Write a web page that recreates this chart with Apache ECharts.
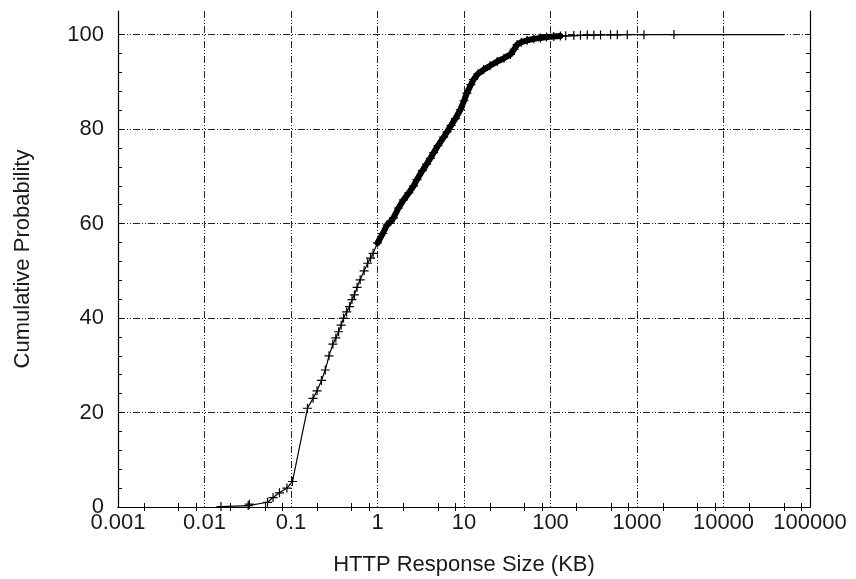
<!DOCTYPE html>
<html>
<head>
<meta charset="utf-8">
<script src="https://cdn.jsdelivr.net/npm/echarts@6/dist/echarts.min.js"></script>
<style>
html,body{margin:0;padding:0;background:#fff;}
#chart{width:856px;height:579px;}
</style>
</head>
<body>
<div id="chart"></div>
<script>
// ---- data ----
var sizeKB = [0.0155, 0.032, 0.033, 0.0535, 0.062, 0.0736, 0.0897, 0.104, 0.155,
  0.18, 0.20, 0.225, 0.249, 0.275, 0.305, 0.33, 0.355, 0.38, 0.405, 0.44, 0.475, 0.507,
  0.54, 0.58, 0.63, 0.70, 0.77, 0.83, 0.89, 1.0, 1.15, 1.29, 1.41, 1.53, 1.75, 2.0,
  2.3, 2.62, 2.86, 3.3, 3.7, 4.08, 4.46, 5.0, 5.83, 6.37, 7.1, 7.95, 9.08, 10.0,
  10.8, 12.0, 12.9, 14.5, 16.9, 20.0, 24.2, 29.0, 34.4, 38.0, 41.1, 46.0, 53.7,
  64.0, 76.6, 90, 109, 130, 150, 186, 222, 266, 317, 379, 495, 592, 772, 1203, 2675];
var cumPct = [0.1, 0.3, 0.6, 1.0, 2.0, 3.0, 4.0, 5.4, 20.9,
  23.0, 24.6, 26.8, 29.0, 32.0, 34.5, 35.8, 37.1, 38.5, 40.0, 41.3, 42.4, 43.9,
  44.9, 46.5, 48.1, 50.0, 51.6, 52.7, 53.7, 55.9, 57.9, 59.7, 60.4, 61.2, 63.3, 65.0,
  66.5, 68.0, 69.3, 71.2, 72.6, 73.8, 75.0, 76.5, 78.3, 79.4, 80.8, 82.2, 84.1, 86.0,
  87.6, 89.4, 90.5, 91.7, 92.6, 93.4, 94.3, 95.0, 95.8, 96.9, 97.9, 98.4, 98.8,
  99.1, 99.3, 99.5, 99.6, 99.7, 99.75, 99.8, 99.85, 99.9, 99.9, 99.92, 99.95, 99.96, 99.97, 99.98, 100];
// trailing line segment after the last marker
var tailKB = [2675, 50000];
var tailPct = [100, 100];
// range where markers overlap into a solid band
var denseFromKB = 0.9, denseToKB = 130;

var xTickValues = [0.001, 0.01, 0.1, 1, 10, 100, 1000, 10000, 100000];
var xTickLabels = ['0.001', '0.01', '0.1', '1', '10', '100', '1000', '10000', '100000'];
var xMinorMult = [2, 5, 8];
var yTickValues = [0, 20, 40, 60, 80, 100];

// ---- build ----
var pts = sizeKB.map(function (x, i) { return [x, cumPct[i]]; });
var densePts = pts.filter(function (p) { return p[0] >= denseFromKB && p[0] <= denseToKB; });
var tailPts = tailKB.map(function (x, i) { return [x, tailPct[i]]; });

var xMinorTicks = [];
for (var d = 0; d < xTickValues.length - 1; d++) {
  xMinorMult.forEach(function (m) { xMinorTicks.push(+(xTickValues[d] * m).toPrecision(6)); });
}
var yMinorTicks = [];
for (var v = 0; v <= 100; v += 4) yMinorTicks.push(v);

var FONT = '"Liberation Sans", Arial, sans-serif';
var TXT = '#1a1a1a';
var gridDash = { color: '#222', width: 1, type: [7, 2, 1, 2, 1, 2] };
var plus = 'path://M0,3.9H9V5.1H0Z M3.9,0H5.1V9H3.9Z';

function xLabel(val) {
  var i = Math.round(Math.log(val) / Math.LN10) + 3;
  return xTickLabels[i] !== undefined ? xTickLabels[i] : '';
}

var chart = echarts.init(document.getElementById('chart'), null, { renderer: 'canvas' });
chart.setOption({
  animation: false,
  backgroundColor: '#fff',
  grid: { left: 118, right: 46, top: 11, bottom: 72, containLabel: false, outerBoundsMode: 'none' },
  xAxis: [
    {
      type: 'log', logBase: 10, min: 0.001, max: 100000, splitNumber: 8, position: 'bottom',
      name: 'HTTP Response Size (KB)', nameLocation: 'middle', nameGap: 47,
      nameTextStyle: { fontFamily: FONT, fontSize: 22, color: TXT },
      axisLine: { show: true, lineStyle: { color: '#000', width: 1.2 } },
      axisTick: { show: false },
      axisLabel: { fontFamily: FONT, fontSize: 22, color: TXT, margin: 5, formatter: xLabel,
        showMinLabel: true, showMaxLabel: true },
      splitLine: { show: true, showMinLine: false, showMaxLine: false, lineStyle: gridDash }
    },
    {
      type: 'log', logBase: 10, min: 0.001, max: 100000, position: 'bottom',
      axisLine: { show: false }, axisLabel: { show: false }, splitLine: { show: false },
      axisTick: { show: true, inside: true, length: 4, customValues: xMinorTicks, lineStyle: { color: '#000' } }
    },
    {
      type: 'log', logBase: 10, min: 0.001, max: 100000, position: 'top',
      axisLine: { show: true, lineStyle: { color: '#000', width: 1.2 } },
      axisLabel: { show: false }, splitLine: { show: false },
      axisTick: { show: true, inside: true, length: 4, customValues: xMinorTicks, lineStyle: { color: '#000' } }
    }
  ],
  yAxis: [
    {
      type: 'value', min: 0, max: 105, interval: 20, position: 'left',
      name: 'Cumulative Probability', nameLocation: 'middle', nameGap: 84, nameRotate: 90,
      nameTextStyle: { fontFamily: FONT, fontSize: 22, color: TXT },
      axisLine: { show: true, lineStyle: { color: '#000', width: 1.2 } },
      axisTick: { show: false },
      axisLabel: { fontFamily: FONT, fontSize: 22, color: TXT, margin: 14,
        customValues: yTickValues },
      splitLine: { show: true, showMinLine: false, showMaxLine: false, lineStyle: gridDash }
    },
    {
      type: 'value', min: 0, max: 105, position: 'left',
      axisLine: { show: false }, axisLabel: { show: false }, splitLine: { show: false },
      axisTick: { show: true, inside: true, length: 4, customValues: yMinorTicks, lineStyle: { color: '#000' } }
    },
    {
      type: 'value', min: 0, max: 105, position: 'right',
      axisLine: { show: true, lineStyle: { color: '#000', width: 1.2 } },
      axisLabel: { show: false }, splitLine: { show: false },
      axisTick: { show: true, inside: true, length: 4, customValues: yMinorTicks, lineStyle: { color: '#000' } }
    }
  ],
  series: [
    {
      name: 'band', type: 'line', xAxisIndex: 0, yAxisIndex: 0, data: densePts,
      symbol: 'none', lineStyle: { color: '#000', width: 6, join: 'round', cap: 'round' }, z: 3, silent: true
    },
    {
      name: 'tail', type: 'line', xAxisIndex: 0, yAxisIndex: 0, data: tailPts,
      symbol: 'none', lineStyle: { color: '#000', width: 1.2 }, z: 3, silent: true
    },
    {
      name: 'CDF', type: 'line', xAxisIndex: 0, yAxisIndex: 0, data: pts,
      symbol: plus, symbolSize: 9, showAllSymbol: true,
      itemStyle: { color: '#000' },
      lineStyle: { color: '#000', width: 1.2 }, z: 4
    }
  ]
});
</script>
</body>
</html>
